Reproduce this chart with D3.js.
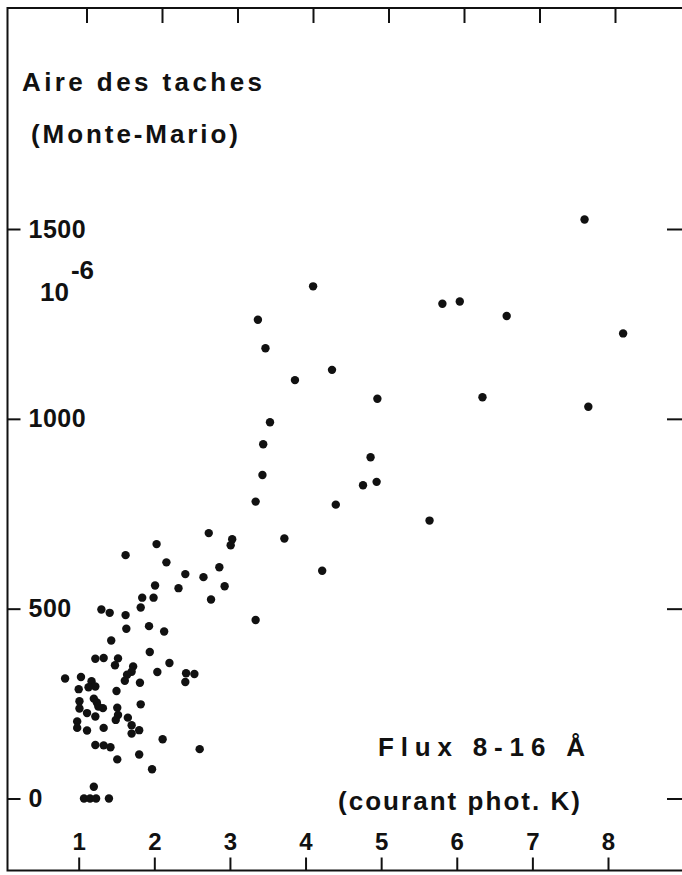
<!DOCTYPE html>
<html>
<head>
<meta charset="utf-8">
<script src="https://cdn.jsdelivr.net/npm/d3@7"></script>
<style>
  body { margin: 0; background: #fff; }
  svg text { font-family: "Liberation Sans", Arial, sans-serif; font-weight: bold; fill: #111; }
</style>
</head>
<body>
<div id="chart"></div>
<script>
// flux 8-16 A (courant phot. K) and spot area (10^-6)
var flux = [7.69, 4.10, 3.37, 3.47, 5.81, 6.04, 6.66, 8.20, 4.35, 3.86,
            4.95, 6.34, 7.74, 3.53, 3.44, 4.86, 3.43, 4.76, 4.94, 3.34,
            4.40, 5.64, 2.72, 3.03, 3.01, 3.72, 2.86, 2.65, 4.22, 2.93,
            2.75, 2.03, 1.62, 2.16, 2.41, 2.01, 2.32, 1.84, 1.99, 1.82,
            1.30, 1.41, 1.62, 3.34, 1.63, 1.93, 2.13, 1.43, 1.94, 1.22,
            1.33, 1.52, 1.48, 2.20, 1.72, 1.70, 1.64, 1.61, 2.04, 2.42,
            2.53, 2.41, 0.82, 1.03, 1.17, 1.22, 1.13, 1.00, 1.81, 1.50,
            1.20, 1.01, 1.24, 1.26, 1.32, 1.01, 1.82, 1.51, 1.11, 1.22,
            1.52, 1.49, 1.65, 0.98, 0.98, 1.11, 1.33, 1.70, 1.80, 1.70,
            2.11, 1.22, 1.33, 1.42, 1.80, 2.60, 1.51, 1.97, 1.20, 1.07,
            1.15, 1.23, 1.40];
var area = [1525, 1349, 1261, 1186, 1303, 1309, 1271, 1225, 1129, 1102,
            1053, 1057, 1032, 991, 933, 899, 852, 825, 834, 782,
            774, 732, 699, 683, 667, 685, 609, 583, 600, 559,
            524, 670, 641, 622, 591, 561, 554, 529, 529, 503,
            498, 489, 483, 470, 447, 454, 440, 416, 386, 368,
            370, 369, 351, 357, 348, 334, 326, 310, 333, 330,
            328, 307, 316, 320, 309, 295, 293, 288, 305, 283,
            263, 256, 253, 242, 238, 237, 248, 239, 225, 216,
            220, 207, 213, 203, 186, 179, 186, 193, 180, 171,
            156, 141, 140, 135, 116, 130, 103, 77, 31, 0,
            0, 0, 0];

var xTicks = [1, 2, 3, 4, 5, 6, 7, 8];
var yTicks = [0, 500, 1000, 1500];

var W = 682, H = 875;
var svg = d3.select("#chart").append("svg").attr("width", W).attr("height", H);

var x = d3.scaleLinear().domain([1, 8]).range([78.7, 608]);
var xTop = d3.scaleLinear().domain([1, 8]).range([86.5, 615]);
var y = d3.scaleLinear().domain([0, 1500]).range([798.5, 229]);

var frameL = 7.5, frameT = 8, frameB = 870.5, frameR = 700;

// frame
svg.append("rect")
  .attr("x", frameL).attr("y", frameT)
  .attr("width", frameR - frameL).attr("height", frameB - frameT)
  .attr("fill", "none").attr("stroke", "#111").attr("stroke-width", 2);

// bottom axis
var gB = svg.append("g").attr("transform", "translate(0," + frameB + ")")
  .call(d3.axisTop(x).tickValues(xTicks).tickSize(13).tickPadding(8).tickFormat(d3.format("d")));
// top axis (ticks only)
var gT = svg.append("g").attr("transform", "translate(0," + frameT + ")")
  .call(d3.axisBottom(xTop).tickValues(xTicks).tickSize(15).tickFormat(""));
gT.selectAll("text").remove();
// left axis
var gL = svg.append("g").attr("transform", "translate(" + frameL + ",0)")
  .call(d3.axisRight(y).tickValues(yTicks).tickSize(13).tickPadding(8).tickFormat(d3.format("d")));
// right axis (ticks only)
var gR = svg.append("g").attr("transform", "translate(682,0)")
  .call(d3.axisLeft(y).tickValues(yTicks).tickSize(15).tickFormat(""));

[gB, gT, gL, gR].forEach(function (g) {
  g.select(".domain").remove();
  g.selectAll(".tick line").attr("stroke", "#111").attr("stroke-width", 2);
});
gB.selectAll("text").attr("font-size", 24).attr("fill", "#111");
gL.selectAll("text").attr("font-size", 25).attr("fill", "#111")
  .attr("text-anchor", "start").attr("letter-spacing", 0.5);

// scatter
svg.append("g").selectAll("circle")
  .data(flux.map(function (f, i) { return [f, area[i]]; }))
  .enter().append("circle")
  .attr("cx", function (d) { return x(d[0]); })
  .attr("cy", function (d) { return y(d[1]); })
  .attr("r", 4.2)
  .attr("fill", "#111");

// labels
function label(txt, px, py, len, size) {
  var t = svg.append("text").attr("x", px).attr("y", py).attr("font-size", size || 26).text(txt);
  if (len) t.attr("textLength", len).attr("lengthAdjust", "spacing");
  return t;
}
label("Aire des taches", 22, 91, 240);
label("(Monte-Mario)", 31, 143, 207);
var unit = svg.append("text").attr("x", 40).attr("y", 301).attr("font-size", 26);
unit.append("tspan").text("10");
unit.append("tspan").attr("dy", -22).attr("dx", 2).text("-6");
label("Flux 8-16 Å", 378, 756, 207);
label("(courant phot. K)", 338, 810, 242);
</script>
</body>
</html>
